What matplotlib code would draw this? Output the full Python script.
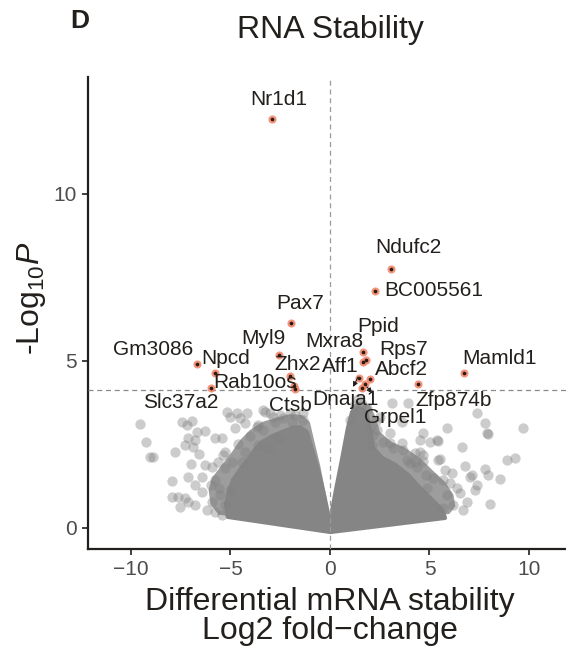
import matplotlib
matplotlib.use("Agg")
import matplotlib.pyplot as plt

plt.rcParams['font.family'] = ['Liberation Sans', 'DejaVu Sans']
plt.rcParams['mathtext.fontset'] = 'custom'
plt.rcParams['mathtext.rm'] = 'Liberation Sans'
plt.rcParams['mathtext.it'] = 'Liberation Sans:italic'

# ---------------- data ----------------
title = "RNA Stability"
panel = "D"
xlabel_lines = ["Differential mRNA stability", "Log2 fold\u2212change"]
xticks = [-10, -5, 0, 5, 10]
xticklabels = ["\u221210", "\u22125", "0", "5", "10"]
yticks = [0, 5, 10]
p_cutoff = 4.13
fc_cutoff = 0.0

# dense core of non-significant genes (outline of the overlapping cloud)
core_left_x = [0.00, -5.13, -5.23, -5.08, -4.87, -4.52, -4.12, -3.77, -3.42, -2.91,
               -2.41, -1.91, -1.51, -1.16, -0.90, -0.60, -0.30, -0.05]
core_left_y = [-0.12, 0.33, 0.69, 1.08, 1.44, 1.74, 2.04, 2.34, 2.57, 2.75,
               2.87, 2.99, 3.02, 2.87, 2.34, 1.74, 0.99, 0.30]
core_right_x = [0.05, 0.05, 0.30, 0.60, 0.90, 1.11, 1.41, 1.81, 2.01, 2.16, 2.61,
                3.27, 3.92, 4.52, 5.13, 5.63, 5.78]
core_right_y = [-0.12, 0.33, 1.14, 2.04, 2.99, 3.47, 3.59, 3.47, 2.99, 2.40, 2.10,
                1.89, 1.59, 1.20, 0.84, 0.54, 0.30]
# looser, partly overlapping zone around the core
mid_left_x = [0.00, -5.60, -6.00, -6.10, -5.93, -5.43, -4.92, -4.52, -4.02, -3.42,
              -2.76, -2.01, -1.41, -1.01, -0.80, -0.50, -0.20, -0.05]
mid_left_y = [-0.12, 0.40, 0.70, 1.14, 1.50, 1.89, 2.28, 2.63, 2.93, 3.17,
              3.29, 3.41, 3.38, 3.17, 2.63, 1.89, 0.99, 0.30]
mid_right_x = [0.05, 0.05, 0.35, 0.70, 0.95, 1.11, 1.51, 2.01, 2.31, 2.51, 3.12,
               3.77, 4.52, 5.13, 5.78, 6.20, 6.30, 6.00]
mid_right_y = [-0.12, 0.33, 1.29, 2.34, 3.23, 3.68, 3.77, 3.68, 3.29, 2.87, 2.57,
               2.40, 2.10, 1.74, 1.38, 1.00, 0.65, 0.42]

# scattered non-significant genes outside the core
ns_x = [-9.55, -9.25, -9.05, -8.89, -7.44, -7.19, -6.93, -6.68, -6.28, -7.14, -6.78,
        -7.29, -6.88, -7.79, -5.78, -5.43, -6.98, -7.94, -7.14, -6.78, -6.43, -6.28,
        -5.93, -5.63, -6.43, -7.94, -7.64, -7.29, -7.14, -7.54, -6.78, -6.18, -5.93,
        -5.38, -5.28, -4.67, -4.27, -5.03, -3.27, -2.86, -3.67, -3.37, -2.01, -2.36,
        -4.52, -4.77, -3.62, -2.76, -3.62, -3.12, -2.61, -1.91, -1.76, -1.36, -2.51,
        -4.92, -4.42, -5.28, -4.27, -5.78, -5.53, -5.28, -5.78, -5.03, -5.43, -5.19,
        -4.19, -3.37, -3.02, -1.36, -4.02, -4.60, -5.60, -6.00, -6.60,
        3.12, 3.92, 7.39, 7.79, 7.89, 7.94, 5.88, 9.70, 6.63, 5.38, 5.53, 8.89, 9.30,
        6.78, 7.14, 7.04, 7.79, 7.94, 8.54, 7.39, 7.29, 6.88, 8.04, 5.78, 6.13, 5.68,
        6.03, 6.38, 6.53, 5.88, 6.18, 6.68, 5.68, 4.67, 4.52, 5.03, 5.43, 3.67, 4.52,
        3.87, 4.27, 4.67, 5.43, 2.36, 2.66, 3.02, 3.62, 2.51, 4.27, 4.67, 3.62, 3.02,
        3.17, 4.02, 4.37, 2.16, 2.11, 2.01, 1.26, 1.61, 1.41, 1.01, 1.85, 2.30, 4.90,
        5.20, 4.80]
ns_y = [3.11, 2.57, 2.13, 2.13, 3.17, 3.08, 3.20, 2.87, 2.90, 2.69, 2.63,
        2.49, 2.43, 2.28, 2.69, 2.69, 1.92, 1.41, 1.53, 1.29, 1.53, 1.89,
        1.83, 1.98, 1.08, 0.93, 0.93, 0.90, 0.78, 0.63, 0.69, 0.54, 0.78,
        2.19, 1.80, 3.44, 3.14, 3.32, 3.47, 3.32, 3.02, 2.93, 3.44, 3.29,
        3.29, 2.99, 3.08, 3.17, 2.49, 2.40, 2.69, 3.17, 3.38, 3.23, 3.38,
        1.98, 1.98, 2.28, 2.28, 1.44, 0.99, 0.69, 0.48, 1.14, 0.39, 3.47,
        3.44, 3.53, 3.44, 3.44, 2.75, 2.50, 1.20, 1.30, 2.20,
        3.74, 3.74, 3.44, 3.14, 2.84, 2.80, 2.99, 2.99, 2.43, 2.63, 2.07, 2.04, 2.10,
        1.86, 1.59, 1.53, 1.77, 1.59, 1.47, 1.29, 1.14, 0.78, 0.72, 1.74, 1.65, 1.44,
        1.35, 1.20, 1.05, 0.99, 0.69, 0.54, 0.60, 2.84, 2.63, 2.57, 2.60, 2.34, 2.28,
        2.04, 1.98, 2.01, 2.04, 2.93, 2.57, 2.84, 3.17, 3.32, 2.25, 2.19, 2.54, 2.54,
        2.40, 1.95, 1.83, 2.78, 2.49, 3.02, 3.68, 3.71, 3.86, 3.23, 3.60, 3.20, 1.20,
        1.50, 1.60]

# significant, labelled genes
genes = ["Nr1d1", "Ndufc2", "BC005561", "Pax7", "Myl9", "Gm3086", "Npcd", "Mxra8",
         "Ppid", "Rps7", "Aff1", "Abcf2", "Mamld1", "Zhx2", "Rab10os", "Slc37a2",
         "Ctsb", "Dnaja1", "Zfp874b", "Grpel1"]
gene_fc = [-2.90, 3.07, 2.26, -1.94, -2.55, -6.70, -5.78, 1.64,
           1.81, 1.67, 1.45, 2.01, 6.72, -2.01, -1.81, -5.99,
           -1.76, 1.76, 4.44, 1.60]
gene_p = [12.24, 7.75, 7.10, 6.15, 5.18, 4.90, 4.63, 5.27,
          5.03, 4.98, 4.50, 4.45, 4.63, 4.55, 4.25, 4.18,
          4.16, 4.30, 4.31, 4.20]
label_x = [-2.58, 3.93, 5.23, -1.51, -3.35, -8.89, -5.24, 0.20,
           2.43, 3.72, 0.54, 3.60, 8.54, -1.64, -3.77, -7.50,
           -1.97, 0.80, 6.20, 3.27]
label_y = [12.84, 8.39, 7.10, 6.73, 5.68, 5.33, 5.08, 5.58,
           6.03, 5.33, 4.83, 4.73, 5.08, 4.88, 4.36, 3.75,
           3.68, 3.86, 3.83, 3.31]
# connector segments (tail -> head)
seg_tail = [(1.41, 4.52), (1.86, 4.22)]
seg_head = [(1.16, 4.22), (2.11, 4.04)]

# ---------------- plot ----------------
W, H = 566, 648
fig = plt.figure(figsize=(W / 100, H / 100), dpi=100)
ax = fig.add_axes([88 / W, 1 - 549 / H, (566 - 88) / W, (549 - 77) / H])

grey = '#808080'
for mx, my in [(mid_left_x, mid_left_y), (mid_right_x, mid_right_y)]:
    ax.fill(mx, my, facecolor='#9d9d9d', edgecolor='none', zorder=1)
for cx, cy in [(core_left_x, core_left_y), (core_right_x, core_right_y)]:
    ax.fill(cx, cy, facecolor='#858585', edgecolor='#858585', lw=3,
            joinstyle='round', zorder=1.5)
ax.scatter(ns_x, ns_y, s=55, color=grey, alpha=0.4, linewidths=0, zorder=2)

ax.axvline(fc_cutoff, color='#9a9a9a', lw=0.9, ls=(0, (4, 3)), zorder=3)
ax.axhline(p_cutoff, color='#8a8a8a', lw=0.9, ls=(0, (4, 3)), zorder=3)

ax.scatter(gene_fc, gene_p, s=34, color='#f2876b', alpha=0.9, linewidths=0, zorder=4)
ax.scatter(gene_fc, gene_p, s=7, color='#2a1a12', linewidths=0, zorder=5)

for g, lx, ly in zip(genes, label_x, label_y):
    ax.text(lx, ly, g, ha='center', va='center', fontsize=15, color='#231f1c', zorder=6)
for t, h in zip(seg_tail, seg_head):
    ax.annotate('', xy=h, xytext=t,
                arrowprops=dict(arrowstyle='-|>', color='#231f1c', lw=0.8,
                                mutation_scale=7, shrinkA=0, shrinkB=0), zorder=6)

ax.set_xlim(-12.16, 11.86)
ax.set_ylim(-0.63, 13.50)
ax.set_xticks(xticks)
ax.set_xticklabels(xticklabels)
ax.set_yticks(yticks)
for s in ['top', 'right']:
    ax.spines[s].set_visible(False)
for s in ['left', 'bottom']:
    ax.spines[s].set_color('#231f1c')
    ax.spines[s].set_linewidth(1.6)
ax.tick_params(axis='both', length=4, width=1.2, color='#231f1c',
               labelsize=15, labelcolor='#4d4d4d', pad=4)

fig.text(330 / W, 1 - 38 / H, title, ha='center', va='baseline', fontsize=23,
         color='#231f1c')
fig.text(80 / W, 1 - 28 / H, panel, ha='center', va='baseline', fontsize=19,
         fontweight='bold', color='#231f1c')
fig.text(330 / W, 1 - 610 / H, xlabel_lines[0], ha='center', va='baseline',
         fontsize=23, color='#231f1c')
fig.text(330 / W, 1 - 639 / H, xlabel_lines[1], ha='center', va='baseline',
         fontsize=23, color='#231f1c')
fig.text(31 / W, 1 - 298 / H, r'-Log$_{10}$$\mathit{P}$', ha='center', va='center',
         rotation=90, fontsize=23, color='#231f1c')

fig.savefig('out.png', dpi=100)
